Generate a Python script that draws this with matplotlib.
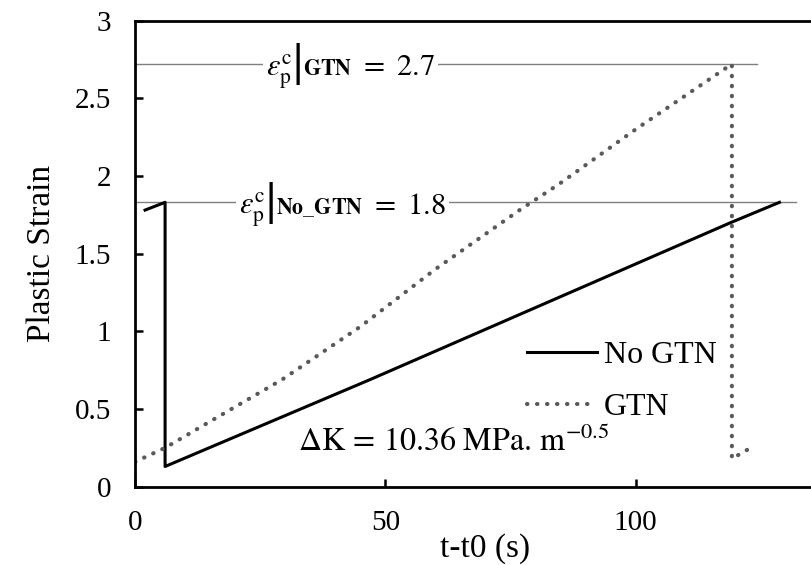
import numpy as np
import matplotlib
matplotlib.use("Agg")
import matplotlib.pyplot as plt
from matplotlib.offsetbox import TextArea, HPacker, AnnotationBbox

plt.rcParams['font.family'] = ['Liberation Serif', 'DejaVu Serif']
plt.rcParams['mathtext.fontset'] = 'stix'

# values
no_gtn_t = [2.0, 6.0, 6.0, 47.0, 119.0, 128.7]
no_gtn_eps = [1.78, 1.83, 0.13, 0.69, 1.70, 1.83]

gtn_t = [0, 6, 15, 29.4, 45, 60, 76.8, 84.8, 100, 119.2, 119.2, 122.4]
gtn_eps = [0.16, 0.25, 0.42, 0.69, 1.03, 1.40, 1.78, 1.95, 2.30, 2.72, 0.18, 0.24]

crit_gtn = 2.72
crit_gtn_end = 124.3
crit_no_gtn = 1.83
crit_no_gtn_end = 132.1

xticks = [0, 50, 100]
yticks = [0, 0.5, 1, 1.5, 2, 2.5, 3]
ytick_labels = ["0", "0.5", "1", "1.5", "2", "2.5", "3"]

fig = plt.figure(figsize=(8.12, 5.65), dpi=100)
ax = fig.add_axes([0.1663, 0.1386, 0.8633, 0.8251])

# critical strain reference lines
ax.plot([0, crit_gtn_end], [crit_gtn, crit_gtn], color='#7f7f7f', lw=1)
ax.plot([0, crit_no_gtn_end], [crit_no_gtn, crit_no_gtn], color='#7f7f7f', lw=1)

ax.plot(no_gtn_t, no_gtn_eps, color='black', lw=2.2, label='No GTN')
ax.plot(gtn_t, gtn_eps, color='#5a5a5a', lw=3, linestyle=(0, (0.1, 2.3)),
        dash_capstyle='round', label='GTN')


def crit_label(sub, value, x, y):
    fs = 22
    eps = TextArea(r'$\varepsilon_{\mathrm{p}}^{\mathrm{c}}$', textprops=dict(fontsize=fs))
    bar = TextArea('|', textprops=dict(fontsize=fs * 1.5, family='Liberation Serif',
                                       fontweight='bold'))
    subs = TextArea(r'$\mathbf{%s}$' % sub, textprops=dict(fontsize=fs * 0.72))
    rest = TextArea(r'$\ =\ %s$' % value, textprops=dict(fontsize=fs))
    pack = HPacker(children=[eps, bar, subs, rest], align='baseline', pad=0, sep=0)
    ab = AnnotationBbox(pack, (x, y), xycoords='data', frameon=True,
                        box_alignment=(0.5, 0.5), pad=0.25,
                        bboxprops=dict(facecolor='white', edgecolor='none'))
    ax.add_artist(ab)


crit_label('GTN', '2.7', 43, crit_gtn - 0.02)
crit_label(r'No\_GTN', '1.8', 41.4, crit_no_gtn - 0.02)

ax.text(32.5, 0.285, r'$\Delta\mathrm{K}\,=\,10.36\ \mathrm{MPa.\,m^{-0.5}}$',
        ha='left', va='center', fontsize=23)

ax.legend(loc='upper left', bbox_to_anchor=(0.518, 0.375), frameon=False,
          fontsize=23, handlelength=2.2, handletextpad=0.2, labelspacing=0.7)

ax.set_xlim(0, 140)
ax.set_ylim(0, 3)
ax.set_xticks(xticks)
ax.set_yticks(yticks)
ax.set_yticklabels(ytick_labels)
ax.tick_params(direction='in', length=6, width=1.8, labelsize=21, pad=17)
for s in ax.spines.values():
    s.set_linewidth(2)

ax.set_xlabel("t-t0 (s)", fontsize=24, labelpad=-2)
ax.set_ylabel("Plastic Strain", fontsize=24, labelpad=13)

fig.savefig("out.png", dpi=100)
